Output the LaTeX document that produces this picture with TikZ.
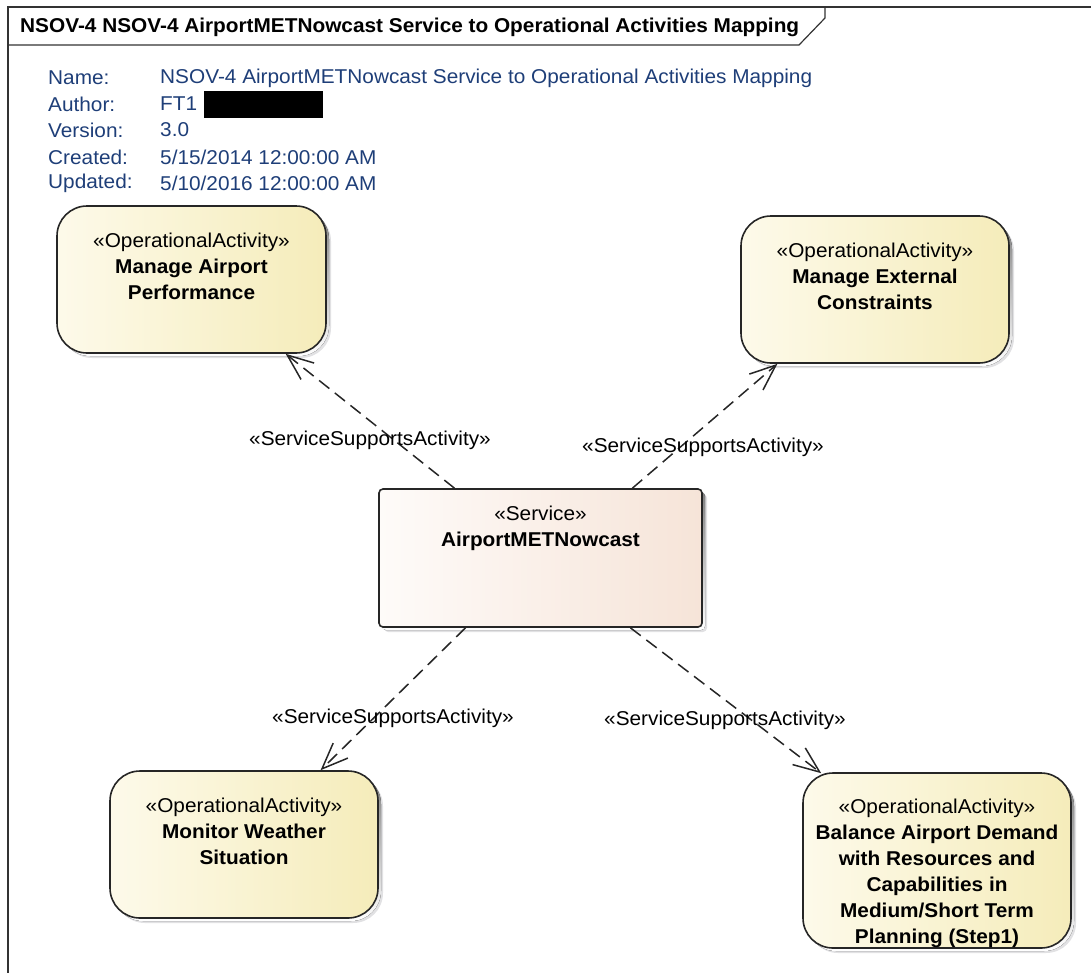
\documentclass[tikz,border=0pt]{standalone}
\usepackage{fontspec}
\setmainfont[FakeStretch=1.04]{Liberation Sans}
\usetikzlibrary{arrows.meta,calc}

\definecolor{metablue}{RGB}{30,62,120}
\definecolor{actleft}{RGB}{253,250,234}
\definecolor{actright}{RGB}{245,236,186}
\definecolor{svcleft}{RGB}{254,251,249}
\definecolor{svcright}{RGB}{246,228,216}
\definecolor{shade}{RGB}{200,200,205}

\tikzset{
  txt/.style={font=\fontsize{20}{26}\selectfont, inner sep=0pt},
  meta/.style={txt, text=metablue, anchor=west},
  actbox/.style={draw=black!85, line width=1.6pt, rounded corners=30pt,
    left color=actleft, right color=actright, inner sep=0pt},
  svcbox/.style={draw=black!85, line width=1.6pt, rounded corners=4pt,
    left color=svcleft, right color=svcright, inner sep=0pt},
  boxtext/.style={txt, align=center, anchor=north},
  flow/.style={draw=black!85, line width=1.5pt, dash pattern=on 13pt off 7pt,
    -{Straight Barb[length=26pt,width=21pt,line width=1.5pt]}},
  flowlabel/.style={txt, text=black}
}

% box with a soft drop shadow: name, centre, width, height, style, corner radius
\newcommand{\shadowbox}[6]{%
  \fill[shade!55, rounded corners=#6] ($(#2)+(-#3/2+5,-#4/2+5)$) rectangle ($(#2)+(#3/2+5,#4/2+5)$);
  \fill[shade, rounded corners=#6] ($(#2)+(-#3/2+3,-#4/2+3)$) rectangle ($(#2)+(#3/2+3,#4/2+3)$);
  \node[#5, minimum width=#3pt, minimum height=#4pt] (#1) at (#2) {};
}

\begin{document}
\begin{tikzpicture}[x=1pt,y=-1pt]
\useasboundingbox (0,0) rectangle (1091,972);
\clip (0,0) rectangle (1091,972);

% diagram frame and title tab
\draw[line width=1.2pt, black!80] (1100,7) -- (8,7) -- (8,990);
\draw[line width=1.2pt, black!80] (8,45) -- (799,45) -- (825,18) -- (825,7);
\node[txt, font=\fontsize{20}{26}\selectfont\bfseries, anchor=west] (title) at (20,27)
  {NSOV-4 NSOV-4 AirportMETNowcast Service to Operational Activities Mapping};

% diagram properties
\node[meta] (kname) at (48,78) {Name:};
\node[meta] (kauth) at (48,104) {Author:};
\node[meta] (kver)  at (48,130) {Version:};
\node[meta] (kcre)  at (48,157) {Created:};
\node[meta] (kupd)  at (48,183) {Updated:};
\node[meta] (vname) at (160,78) {NSOV-4 AirportMETNowcast Service to Operational Activities Mapping};
\node[meta] (vauth) at (160,104) {FT1};
\fill[black] (204,91) rectangle (323,118);
\node[meta] (vver)  at (160,130) {3.0};
\node[meta] (vcre)  at (160,157) {5/15/2014 12:00:00 AM};
\node[meta] (vupd)  at (160,183) {5/10/2016 12:00:00 AM};

% operational activities and the service
\shadowbox{perf}{191.5,279.5}{269}{147}{actbox}{30pt}
\shadowbox{ext}{875,289.5}{268}{147}{actbox}{30pt}
\shadowbox{svc}{540.5,558}{323}{138}{svcbox}{4pt}
\shadowbox{wx}{244,844.5}{268}{147}{actbox}{30pt}
\shadowbox{bal}{937,860.5}{268}{175}{actbox}{30pt}

\node[boxtext] (perft) at ($(perf.north)+(0,28)$)
  {«OperationalActivity»\\\textbf{Manage Airport}\\\textbf{Performance}};
\node[boxtext] (extt) at ($(ext.north)+(0,28)$)
  {«OperationalActivity»\\\textbf{Manage External}\\\textbf{Constraints}};
\node[boxtext] (svct) at ($(svc.north)+(0,18)$)
  {«Service»\\\textbf{AirportMETNowcast}};
\node[boxtext] (wxt) at ($(wx.north)+(0,28)$)
  {«OperationalActivity»\\\textbf{Monitor Weather}\\\textbf{Situation}};
\node[boxtext] (balt) at ($(bal.north)+(0,27)$)
  {«OperationalActivity»\\\textbf{Balance Airport Demand}\\\textbf{with Resources and}\\\textbf{Capabilities in}\\\textbf{Medium/Short Term}\\\textbf{Planning (Step1)}};

% connector end points on the box borders
\coordinate (s1) at ($(svc.north west)!0.235!(svc.north east)$);
\coordinate (s2) at ($(svc.north west)!0.783!(svc.north east)$);
\coordinate (s3) at ($(svc.south west)!0.269!(svc.south east)$);
\coordinate (s4) at ($(svc.south west)!0.777!(svc.south east)$);
\coordinate (e1) at ($(perf.south west)!0.848!(perf.south east)$);
\coordinate (e2) at ($(ext.south west)!0.138!(ext.south east)$);
\coordinate (e3) at ($(wx.north west)!0.784!(wx.north east)$);
\coordinate (e4) at ($(bal.north west)+(19,1)$);

\draw[flow] (s1) -- (e1);
\draw[flow] (s2) -- (e2);
\draw[flow] (s3) -- (e3);
\draw[flow] (s4) -- (e4);

\node[flowlabel] (l1) at (370,440) {«ServiceSupportsActivity»};
\node[flowlabel] (l2) at (703,447) {«ServiceSupportsActivity»};
\node[flowlabel] (l3) at (393,718) {«ServiceSupportsActivity»};
\node[flowlabel] (l4) at (725,720) {«ServiceSupportsActivity»};
\end{tikzpicture}
\end{document}
